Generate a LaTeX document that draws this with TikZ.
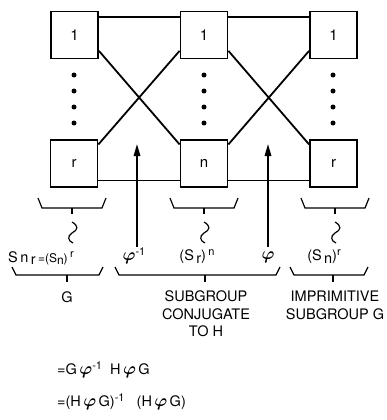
\documentclass[tikz,border=0pt]{standalone}
\usepackage{fontspec}
\setmainfont{TeX Gyre Heros}
\usetikzlibrary{arrows.meta}
\newcommand{\phis}{{\fontsize{19}{19}\selectfont\boldmath$\varphi$}}
\newcommand{\sups}[1]{\raisebox{5pt}{\fontsize{11}{11}\selectfont #1}}
\newcommand{\subs}[1]{\raisebox{-2.5pt}{#1}}
\begin{document}
\begin{tikzpicture}[x=1pt,y=-1pt,
  box/.style={draw, line width=1.8pt, minimum width=47pt, minimum height=47pt, inner sep=0pt, font=\fontsize{15}{15}\selectfont},
  link/.style={line width=1.8pt},
  brace/.style={line width=1.2pt},
  arr/.style={line width=1.6pt, -{Triangle[width=6.5pt,length=12pt]}},
  lbl/.style={font=\fontsize{14.5}{17.5}\selectfont, inner sep=0pt},
  dot/.style={circle, fill, inner sep=0pt, minimum size=5pt}]
\useasboundingbox (0,0) rectangle (387,420);
% boxes
\node[box] (l1) at (74.5,35) {1};
\node[box] (m1) at (204,35) {1};
\node[box] (r1) at (333.5,35) {1};
\node[box] (l2) at (74,163.5) {r};
\node[box] (m2) at (204,163.5) {n};
\node[box] (r2) at (333.5,163.5) {r};
% dots
\foreach \x/\n in {74/a,204/b,333/c}{
  \foreach \y/\k in {75/1,91/2,107/3,123/4}{
    \node[dot] (d\n\k) at (\x,\y) {};
  }
}
% connectors
\draw[link] (l1.37) -- (m1.143);
\draw[link] (m1.37) -- (r1.143);
\draw[link] (l2.-35) -- (m2.-145);
\draw[link] (m2.-35) -- (r2.-145);
\draw[link] (l1.-33) -- (m2.142);
\draw[link] (m1.-147) -- (l2.38);
\draw[link] (m1.-33) -- (r2.142);
\draw[link] (r1.-147) -- (m2.38);
% arrows
\coordinate (a1s) at (137,247);
\coordinate (a1e) at (137,144);
\coordinate (a2s) at (268,247);
\coordinate (a2e) at (268,144);
\draw[arr] (a1s) -- (a1e);
\draw[arr] (a2s) -- (a2e);
% upper braces with squiggles
\foreach \c in {72,204,335}{
  \draw[brace] (\c-34,198) -- (\c-30,208) -- (\c+30,208) -- (\c+34,198);
  \draw[brace] (\c,208) -- (\c,214);
  \draw[brace] (\c,222) .. controls (\c+7,226) and (\c+6,230) .. (\c,233)
                 .. controls (\c-5,236) and (\c-4,241) .. (\c+1,243);
}
% label row
\node[lbl, anchor=west] (t1) at (8,258) {S\,n\,\subs{r}\,{\fontsize{12}{12}\selectfont =(S\subs{n})}\,\sups{r}};
\node[lbl] (t2) at (134,256) {\phis\sups{-1}};
\node[lbl] (t3) at (197,257) {(S\,\subs{r})\,\sups{n}};
\node[lbl] (t4) at (268,257) {\phis};
\node[lbl] (t5) at (324,257) {(S\,\subs{n})\sups{r}};
% lower braces
\draw[brace] (12,267) -- (16,275) -- (99,275) -- (103,267);
\draw[brace] (67,275) -- (67,282);
\draw[brace] (115,267) -- (119,275) -- (276,275) -- (280,267);
\draw[brace] (205,275) -- (205,282);
\draw[brace] (290,267) -- (294,275) -- (364,275) -- (368,267);
\draw[brace] (333,275) -- (333,282);
% bottom texts
\node[lbl] (g) at (67,297) {G};
\node[lbl, align=center] (sub) at (206,314) {SUBGROUP\\CONJUGATE\\TO H};
\node[lbl, align=center] (imp) at (335,305.5) {IMPRIMITIVE\\SUBGROUP G};
% equations
\node[lbl, anchor=west] (e1) at (57,370) {=G\,\phis\sups{-1}\ \ H\,\phis\,G};
\node[lbl, anchor=west] (e2) at (57,402) {=(H\,\phis\,G)\sups{-1}\ \ \ (H\,\phis\,G)};
\end{tikzpicture}
\end{document}
